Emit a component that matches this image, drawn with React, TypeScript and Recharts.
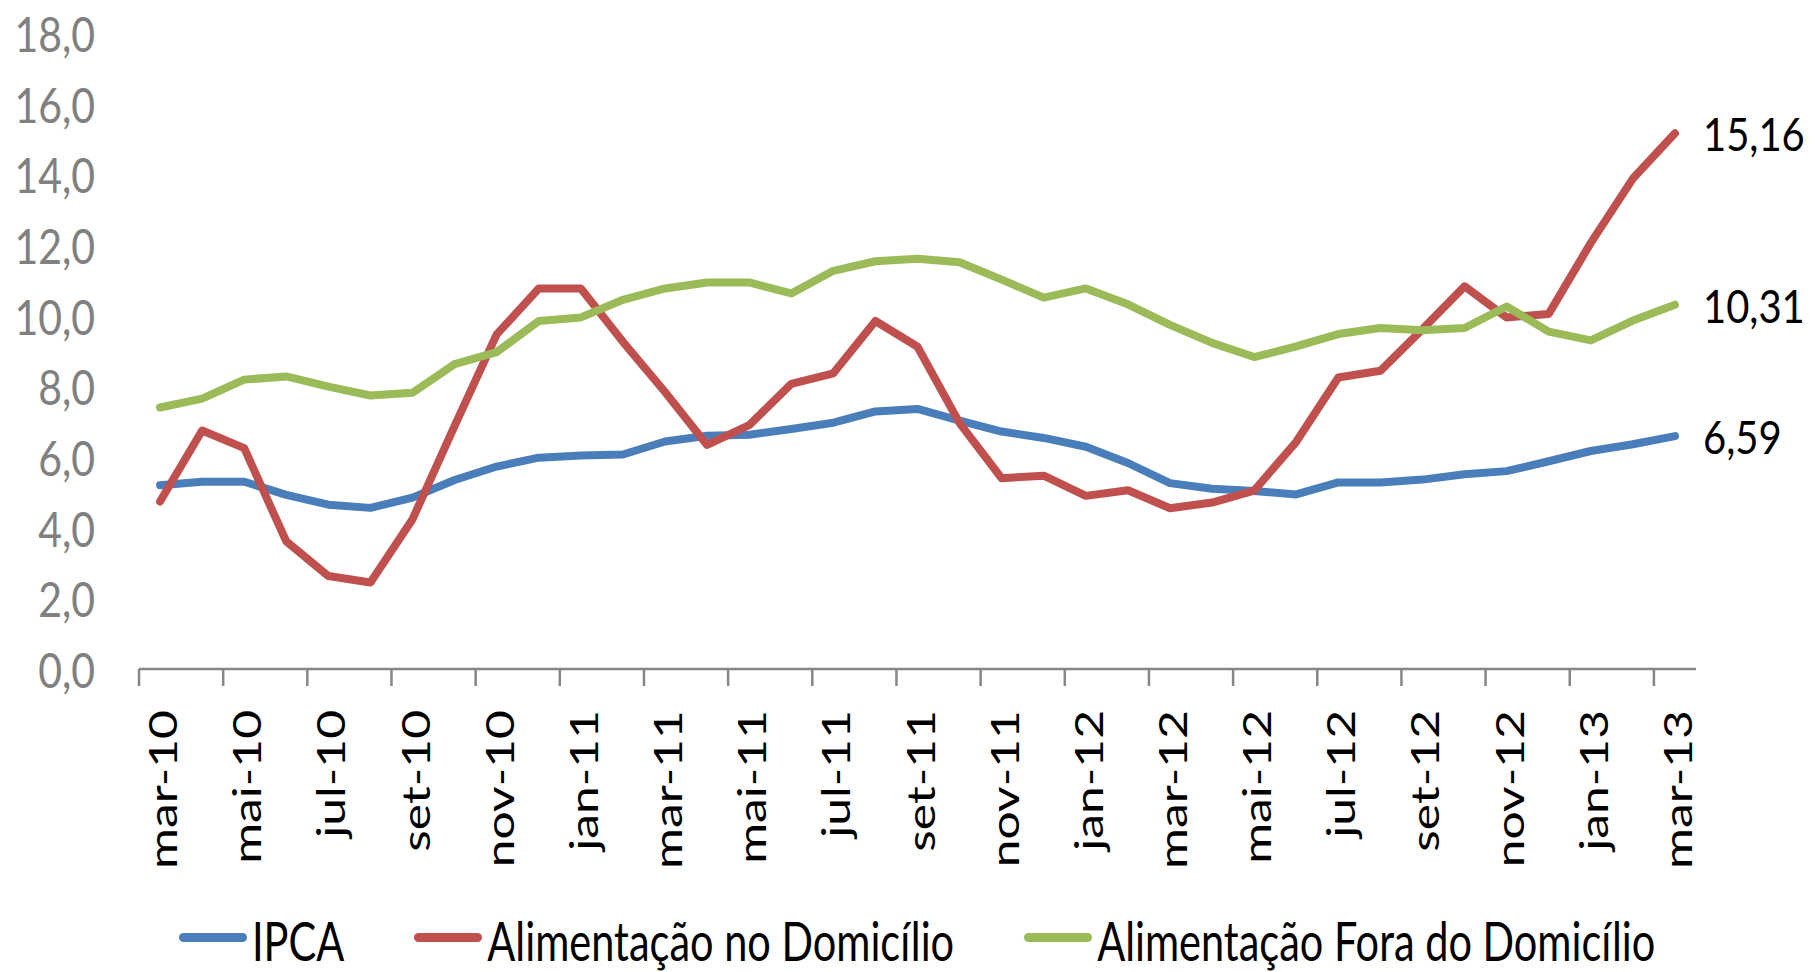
import React from "react";
import { LineChart, Line, XAxis, YAxis, Legend } from "recharts";

const months = [
  "mar-10", "abr-10", "mai-10", "jun-10", "jul-10", "ago-10", "set-10", "out-10", "nov-10", "dez-10",
  "jan-11", "fev-11", "mar-11", "abr-11", "mai-11", "jun-11", "jul-11", "ago-11", "set-11", "out-11", "nov-11", "dez-11",
  "jan-12", "fev-12", "mar-12", "abr-12", "mai-12", "jun-12", "jul-12", "ago-12", "set-12", "out-12", "nov-12", "dez-12",
  "jan-13", "fev-13", "mar-13",
];

const ipca = [
  5.2, 5.3, 5.3, 4.93, 4.65, 4.56, 4.85, 5.35, 5.73, 5.98, 6.04,
  6.07, 6.44, 6.6, 6.63, 6.79, 6.97, 7.29, 7.36, 7.03, 6.72, 6.54, 6.29, 5.83,
  5.26, 5.1, 5.04, 4.94, 5.28, 5.28, 5.36, 5.51, 5.6, 5.88, 6.17, 6.36, 6.59,
];

const alimDomicilio = [
  4.74, 6.75, 6.25, 3.61, 2.63, 2.45, 4.24, 6.88, 9.47, 10.77, 10.77,
  9.26, 7.84, 6.34, 6.9, 8.07, 8.37, 9.85, 9.12, 6.96, 5.4, 5.47, 4.9, 5.06,
  4.55, 4.71, 5.05, 6.43, 8.25, 8.44, 9.62, 10.83, 9.95, 10.05, 12.06, 13.88, 15.16,
];

const alimFora = [
  7.4, 7.65, 8.19, 8.28, 7.99, 7.74, 7.82, 8.63, 8.97, 9.85, 9.95,
  10.45, 10.77, 10.94, 10.94, 10.63, 11.27, 11.54, 11.61, 11.51, 11.02, 10.51, 10.77, 10.32,
  9.74, 9.23, 8.83, 9.13, 9.48, 9.65, 9.59, 9.65, 10.26, 9.55, 9.3, 9.86, 10.31,
];

const seriesNames = ["IPCA", "Alimentação no Domicílio", "Alimentação Fora do Domicílio"];
const yTicks = [0, 2, 4, 6, 8, 10, 12, 14, 16, 18];

const data = months.map((m, i) => ({
  month: m,
  ipca: ipca[i],
  dom: alimDomicilio[i],
  fora: alimFora[i],
}));

const W = 1815;
const H = 972;
const LEFT = 139;
const RIGHT = 119;
const BAND = (W - LEFT - RIGHT) / months.length;
const FONT = "Lato, 'Open Sans', sans-serif";
const fmt = (v: number, d: number) => v.toFixed(d).replace(".", ",");

function YTick(props: any) {
  const { x, y, payload } = props;
  return (
    <text
      transform={`translate(${x},${y}) scale(1,1.2)`}
      textAnchor="end"
      dominantBaseline="central"
      fontFamily={FONT}
      fontSize={41}
      fill="#808080"
    >
      {fmt(payload.value, 1)}
    </text>
  );
}

function XTick(props: any) {
  const { x, y, payload } = props;
  const tx = x - BAND / 2;
  return (
    <g>
      <line x1={tx} y1={y} x2={tx} y2={y + 17} stroke="#868686" strokeWidth={2.5} />
      <text
        transform={`translate(${x + 2},${y + 41}) rotate(-90) scale(1.31,1)`}
        textAnchor="end"
        dominantBaseline="central"
        fontFamily={FONT}
        fontSize={38}
        fill="#000"
      >
        {payload.value}
      </text>
    </g>
  );
}

const lastIndex = months.length - 1;

function EndLabel(props: any) {
  const { x, y, index, value } = props;
  if (index !== lastIndex) return null;
  return (
    <text
      transform={`translate(${x + 28},${y}) scale(1,1.15)`}
      dominantBaseline="central"
      fontFamily={FONT}
      fontSize={40}
      fill="#000"
    >
      {fmt(value, 2)}
    </text>
  );
}

function LegendContent(props: any) {
  const items = [...(props.payload || [])].sort(
    (a: any, b: any) => seriesNames.indexOf(a.value) - seriesNames.indexOf(b.value)
  );
  return (
    <div
      style={{
        display: "flex",
        alignItems: "center",
        height: 63,
        paddingLeft: 179,
        whiteSpace: "nowrap",
      }}
    >
      {items.map((entry: any, i: number) => (
        <div key={i} style={{ display: "flex", alignItems: "center", marginRight: 70, flexShrink: 0 }}>
          <span
            style={{
              display: "inline-block",
              width: 68,
              height: 9,
              borderRadius: 5,
              background: entry.color,
              marginRight: 5,
              marginTop: -6,
            }}
          />
          <span
            style={{
              display: "inline-block",
              fontFamily: FONT,
              fontSize: 41.5,
              lineHeight: 1,
              color: "#000",
              transform: "scaleY(1.3)",
            }}
          >
            {entry.value}
          </span>
        </div>
      ))}
    </div>
  );
}

export default function App() {
  return (
    <div style={{ position: "absolute", left: 0, top: 0, width: W, height: H, background: "#fff" }}>
      <LineChart width={W} height={H} data={data} margin={{ top: 33, right: RIGHT, bottom: 0, left: 0 }}>
        <XAxis
          dataKey="month"
          interval={1}
          padding={{ left: BAND / 2, right: BAND / 2 }}
          axisLine={{ stroke: "#868686", strokeWidth: 2.5 }}
          tickLine={false}
          tickSize={0}
          tickMargin={0}
          height={240}
          tick={<XTick />}
        />
        <YAxis
          domain={[0, 18]}
          ticks={yTicks}
          width={LEFT}
          axisLine={false}
          tickLine={false}
          tickSize={0}
          tickMargin={44}
          tick={<YTick />}
        />
        <Legend verticalAlign="bottom" height={63} content={<LegendContent />} />
        <Line
          type="linear"
          dataKey="ipca"
          name={seriesNames[0]}
          stroke="#4a7ebb"
          strokeWidth={8}
          strokeLinecap="round"
          strokeLinejoin="round"
          dot={false}
          label={<EndLabel />}
          isAnimationActive={false}
        />
        <Line
          type="linear"
          dataKey="dom"
          name={seriesNames[1]}
          stroke="#c0504d"
          strokeWidth={8}
          strokeLinecap="round"
          strokeLinejoin="round"
          dot={false}
          label={<EndLabel />}
          isAnimationActive={false}
        />
        <Line
          type="linear"
          dataKey="fora"
          name={seriesNames[2]}
          stroke="#9bbb59"
          strokeWidth={8}
          strokeLinecap="round"
          strokeLinejoin="round"
          dot={false}
          label={<EndLabel />}
          isAnimationActive={false}
        />
      </LineChart>
    </div>
  );
}
